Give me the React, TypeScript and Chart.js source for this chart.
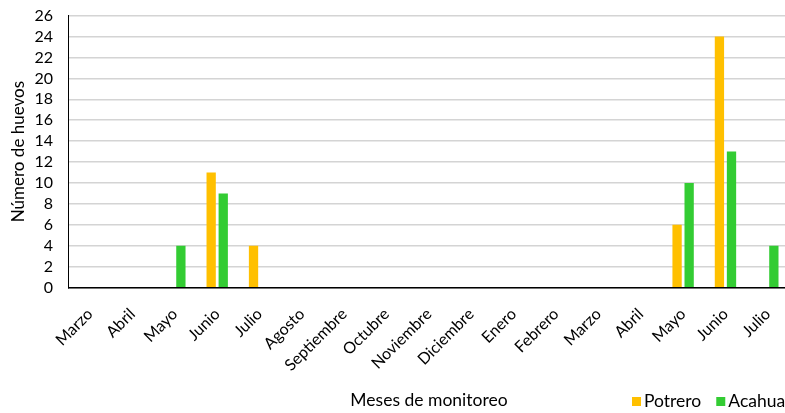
import React, { useEffect, useRef } from "react";
import { Chart, registerables } from "chart.js";

Chart.register(...registerables);

const months = [
  "Marzo", "Abril", "Mayo", "Junio", "Julio", "Agosto", "Septiembre", "Octubre",
  "Noviembre", "Diciembre", "Enero", "Febrero", "Marzo", "Abril", "Mayo", "Junio", "Julio",
];
const potrero = [0, 0, 0, 11, 4, 0, 0, 0, 0, 0, 0, 0, 0, 0, 6, 24, 0];
const acahual = [0, 0, 4, 9, 0, 0, 0, 0, 0, 0, 0, 0, 0, 0, 10, 13, 4];
const seriesNames = ["Potrero", "Acahual"];
const seriesColors = ["#FFC000", "#33CC33"];
const yMax = 26;
const yStep = 2;
const xTitle = "Meses de monitoreo";
const yTitle = "Número de huevos";

const FONT = "Lato, 'Open Sans', sans-serif";

const legendPlugin = {
  id: "customLegend",
  afterDraw(chart: any) {
    const ctx = chart.ctx;
    ctx.save();
    ctx.font = `17.5px ${FONT}`;
    ctx.textBaseline = "middle";
    ctx.textAlign = "left";
    let x = 632;
    const y = 401.5;
    chart.data.datasets.forEach((ds: any) => {
      ctx.fillStyle = ds.backgroundColor;
      ctx.fillRect(x, y - 4.5, 9, 9);
      ctx.fillStyle = "#000";
      ctx.fillText(ds.label, x + 12, y);
      x += 12 + ctx.measureText(ds.label).width + 15;
    });
    ctx.restore();
  },
};

export default function App() {
  const ref = useRef<HTMLCanvasElement | null>(null);
  useEffect(() => {
    if (!ref.current) return;
    const chart = new Chart(ref.current, {
      type: "bar",
      data: {
        labels: months,
        datasets: [
          { label: seriesNames[0], data: potrero, backgroundColor: seriesColors[0], borderWidth: 0 },
          { label: seriesNames[1], data: acahual, backgroundColor: seriesColors[1], borderWidth: 0 },
        ],
      },
      plugins: [legendPlugin],
      options: {
        animation: false,
        responsive: true,
        maintainAspectRatio: false,
        datasets: { bar: { categoryPercentage: 0.57, barPercentage: 0.77 } },
        layout: { padding: { top: 0, right: 11, left: 4, bottom: 0 } },
        plugins: { legend: { display: false }, tooltip: { enabled: false } },
        scales: {
          x: {
            grid: { display: false },
            border: { color: "#000", width: 1.5 },
            ticks: {
              maxRotation: 45,
              minRotation: 45,
              autoSkip: false,
              color: "#000",
              font: { family: FONT, size: 16 },
              padding: 9,
            },
            title: {
              display: true,
              text: xTitle,
              color: "#000",
              font: { family: FONT, size: 17.5 },
              padding: { top: 6, bottom: 2 },
            },
          },
          y: {
            min: 0,
            max: yMax,
            ticks: {
              stepSize: yStep,
              autoSkip: false,
              color: "#000",
              font: { family: FONT, size: 16 },
              padding: 6,
            },
            grid: {
              color: "#d4d4d4",
              lineWidth: 1.5,
              drawTicks: true,
              tickLength: 10,
              tickColor: "rgba(0,0,0,0)",
            },
            border: { color: "#000", width: 1 },
            title: {
              display: true,
              text: yTitle,
              color: "#000",
              font: { family: FONT, size: 17 },
              padding: { top: 4, bottom: 0 },
            },
          },
        },
      },
    });
    return () => chart.destroy();
  }, []);
  return (
    <div style={{ position: "fixed", left: 0, top: 0, width: 785, height: 413, overflow: "hidden", background: "#fff" }}>
      <div style={{ position: "relative", width: 800, height: 413 }}>
        <canvas ref={ref} />
      </div>
    </div>
  );
}
